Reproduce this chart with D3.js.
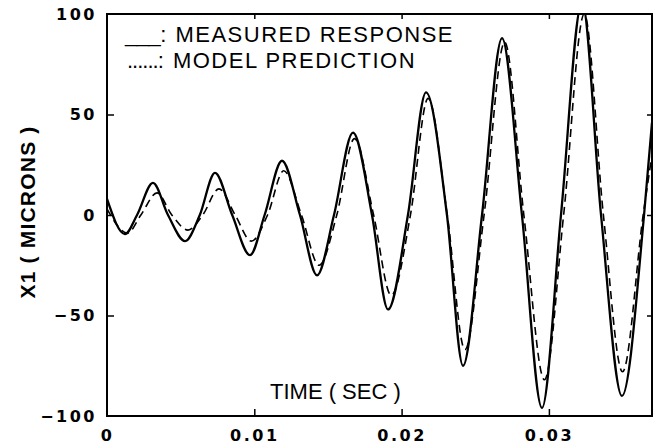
<!DOCTYPE html>
<html>
<head>
<meta charset="utf-8">
<script src="https://cdn.jsdelivr.net/npm/d3@7"></script>
<style>
    body { margin: 0; background: #fff; }
    .tick-label { font-family: "DejaVu Sans", sans-serif; font-weight: bold; font-size: 16px; letter-spacing: 2.5px; }
    .title-text { font-family: "Liberation Sans", Arial, sans-serif; }
</style>
</head>
<body>
<div id="chart"></div>
<script>

// time (sec) and displacement (microns)
let measuredTime = [0, 0.00122, 0.00204, 0.00312, 0.00414, 0.0053, 0.0063, 0.00733, 0.0085, 0.00971,
    0.0107, 0.01188, 0.0131, 0.01426, 0.01541, 0.0167, 0.01799, 0.01908, 0.02043, 0.02166,
    0.02308, 0.02417, 0.02546, 0.02682, 0.02817, 0.02953, 0.03082, 0.03225, 0.03354, 0.03496,
    0.03646, 0.037];
let measuredValue = [8, -9.5, 0, 16, 0, -13, 0, 21, 0, -20,
    0, 27, 0, -30, 0, 41, 0, -47, 0, 61,
    0, -75, 0, 88, 0, -96, 0, 106, 0, -90,
    0, 46];

let modelTime = [0, 0.0014, 0.0023, 0.0034, 0.0044, 0.0055, 0.0065, 0.0076, 0.0087, 0.0098,
    0.0109, 0.0120, 0.0132, 0.0144, 0.0156, 0.0168, 0.0181, 0.0193, 0.0206, 0.0218,
    0.0231, 0.0243, 0.0256, 0.0270, 0.0283, 0.0297, 0.0310, 0.0324, 0.0337, 0.0350,
    0.0364, 0.037];
let modelValue = [3, -9, 0, 11, 0, -7.5, 0, 13, 0, -13,
    0, 22, 0, -25, 0, 38, 0, -40, 0, 58,
    0, -67, 0, 86, 0, -82, 0, 100, 0, -78,
    0, 30];

let xTicks = [0, 0.01, 0.02, 0.03];
let xTickLabels = ["0", "0.01", "0.02", "0.03"];
let yTicks = [-100, -50, 0, 50, 100];
let yTickLabels = ["\u2212100", "\u221250", "0", "50", "100"];

let legendLabels = [": MEASURED RESPONSE", ": MODEL PREDICTION"];

// margin conventions
let margin = {top: 14, right: 4, bottom: 31, left: 107};
let width = 656 - margin.left - margin.right;
let height = 447 - margin.top - margin.bottom;

let svg = d3.select("#chart").append("svg")
    .attr("width", 656)
    .attr("height", 447)
    .append("g")
    .attr("transform", `translate(${margin.left}, ${margin.top})`);

let x = d3.scaleLinear().domain([0, 0.037]).range([0, width]);
let y = d3.scaleLinear().domain([-100, 100]).range([height, 0]);

svg.append("clipPath").attr("id", "plot-clip")
    .append("rect").attr("width", width).attr("height", height);

// inward ticks on all four sides
let innerX = xTicks.filter(d => d > 0);
let innerY = yTicks.filter(d => d > -100 && d < 100);

svg.append("g")
    .attr("transform", `translate(0, ${height})`)
    .call(d3.axisBottom(x).tickValues(xTicks).tickSize(-7).tickPadding(14)
        .tickFormat((d, i) => xTickLabels[i]))
    .call(g => g.select(".domain").remove())
    .call(g => g.selectAll(".tick line").filter(d => d === 0).remove());

svg.append("g")
    .call(d3.axisTop(x).tickValues(innerX).tickSize(-5).tickFormat(""))
    .call(g => g.select(".domain").remove());

svg.append("g")
    .call(d3.axisLeft(y).tickValues(yTicks).tickSize(-7).tickPadding(10)
        .tickFormat((d, i) => yTickLabels[i]))
    .call(g => g.select(".domain").remove())
    .call(g => g.selectAll(".tick line").filter(d => d === -100 || d === 100).remove());

svg.append("g")
    .attr("transform", `translate(${width}, 0)`)
    .call(d3.axisRight(y).tickValues(innerY).tickSize(-5).tickFormat(""))
    .call(g => g.select(".domain").remove());

svg.selectAll(".tick line").attr("stroke", "#000").attr("stroke-width", 1.5);
svg.selectAll(".tick text")
    .attr("class", "tick-label")
    .attr("fill", "#000")
    .attr("font-size", null)
    .attr("font-family", null);

// frame
svg.append("rect")
    .attr("width", width)
    .attr("height", height)
    .attr("fill", "none")
    .attr("stroke", "#000")
    .attr("stroke-width", 2);

// the two curves
let line = d3.line()
    .x(d => x(d[0]))
    .y(d => y(d[1]))
    .curve(d3.curveMonotoneX);

let measured = measuredTime.map((t, i) => [t, measuredValue[i]]);
let model = modelTime.map((t, i) => [t, modelValue[i]]);

svg.append("path")
    .datum(model)
    .attr("clip-path", "url(#plot-clip)")
    .attr("fill", "none")
    .attr("stroke", "#000")
    .attr("stroke-width", 1.6)
    .attr("stroke-dasharray", "8,5")
    .attr("d", line);

svg.append("path")
    .datum(measured)
    .attr("clip-path", "url(#plot-clip)")
    .attr("fill", "none")
    .attr("stroke", "#000")
    .attr("stroke-width", 2.3)
    .attr("d", line);

// legend (text only, as in the original)
let legend = svg.append("g").attr("class", "title-text").attr("font-size", 22);

let l1 = legend.append("text").attr("x", 18).attr("y", 28);
l1.append("tspan").attr("letter-spacing", -0.5).text("___");
l1.append("tspan").attr("letter-spacing", 1.5).text(legendLabels[0]);

let l2 = legend.append("text").attr("x", 20).attr("y", 54);
l2.append("tspan").attr("letter-spacing", -1).text("......");
l2.append("tspan").attr("letter-spacing", 1.5).text(legendLabels[1]);

// axis titles
svg.append("text")
    .attr("class", "title-text")
    .attr("x", 163)
    .attr("y", 385)
    .attr("font-size", 22)
    .text("TIME ( SEC )");

svg.append("text")
    .attr("transform", `translate(${-72}, ${y(0) - 3}) rotate(-90)`)
    .attr("text-anchor", "middle")
    .attr("font-family", "'Liberation Sans', Arial, sans-serif")
    .attr("font-weight", "bold")
    .attr("font-size", 21)
    .attr("letter-spacing", 1.2)
    .text("X1 ( MICRONS )");

</script>
</body>
</html>
